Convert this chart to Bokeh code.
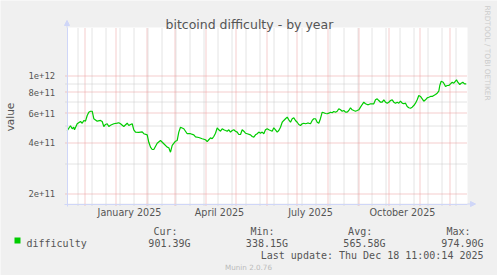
import math
from datetime import datetime, timedelta
from bokeh.plotting import figure
from bokeh.models import (ColumnDataSource, Range1d, FixedTicker, CustomJSTickFormatter,
                          Label, Arrow, NormalHead, BoxAnnotation)
from bokeh.embed import file_html
from bokeh.resources import INLINE

# ---------------- data ----------------
START = datetime(2024, 11, 14)
SPAN_DAYS = 400

DAYS = [
    -0.3, 3.0, 4.7, 6.3, 7.0, 9.7, 13.0, 14.7, 16.3, 18.0, 19.7, 21.3, 23.0, 24.7, 26.3,
    29.7, 33.0, 34.7, 36.3, 38.0, 39.7, 41.3, 43.0, 46.3, 49.7, 51.3, 53.0, 56.3, 59.7,
    61.3, 63.0, 64.7, 66.3, 68.0, 71.3, 74.7, 76.3, 79.7, 81.3, 83.0, 84.7, 86.3, 89.7,
    93.0, 96.3, 99.7, 101.3, 103.0, 104.7, 108.0, 109.7, 111.3, 113.0, 116.3, 119.7,
    123.0, 126.3, 128.0, 131.3, 134.7, 138.0, 139.7, 141.3, 143.0, 144.7, 146.3, 148.0,
    149.7, 151.3, 153.0, 154.7, 156.3, 158.0, 159.7, 161.3, 163.0, 164.7, 166.3, 168.0,
    169.7, 171.3, 173.0, 174.7, 176.3, 178.0, 179.7, 183.0, 184.7, 186.3, 188.0, 189.7,
    191.3, 193.0, 194.7, 196.3, 198.0, 199.7, 201.3, 203.0, 204.7, 206.3, 208.0, 209.7,
    211.3, 213.0, 214.7, 216.3, 218.0, 219.7, 221.3, 223.0, 224.7, 226.3, 228.0, 229.7,
    231.3, 233.0, 234.7, 236.3, 238.0, 239.7, 241.3, 243.0, 244.7, 246.3, 248.0, 249.7,
    251.3, 253.0, 254.7, 256.3, 258.0, 259.7, 261.3, 263.0, 264.7, 266.3, 268.0, 269.7,
    271.3, 273.0, 274.7, 276.3, 278.0, 279.7, 281.3, 283.0, 284.7, 286.3, 288.0, 289.7,
    291.3, 293.0, 294.7, 296.3, 298.0, 299.7, 301.3, 303.0, 304.7, 306.3, 308.0, 309.7,
    311.3, 313.0, 314.7, 316.3, 318.0, 319.7, 321.3, 323.0, 324.7, 326.3, 328.0, 329.7,
    331.3, 333.0, 334.7, 336.3, 338.0, 339.7, 341.3, 343.0, 344.7, 346.3, 348.0, 349.7,
    351.3, 353.0, 354.7, 356.3, 358.0, 359.7, 361.3, 363.0, 364.7, 366.3, 368.0, 369.7,
    371.3, 372.3, 373.7, 375.7, 377.0, 378.0, 379.7, 381.3, 383.0, 384.7, 386.3, 388.0,
    389.0, 390.3, 392.3, 393.7, 395.3, 397.0, 398.7,
]

DIFFICULTY_G = [
    473, 505, 485, 495, 478, 519, 535, 523, 543, 538, 581, 608, 616, 616, 556,
    538, 543, 535, 500, 514, 519, 500, 509, 519, 523, 526, 519, 500, 523,
    507, 514, 519, 478, 463, 461, 465, 453, 446, 403, 377, 365, 365, 398,
    413, 395, 377, 374, 352, 386, 409, 413, 463, 495, 485, 453,
    453, 446, 434, 430, 423, 417, 407, 417, 428, 423, 436, 456,
    491, 478, 469, 485, 478, 473, 469, 478, 463, 473, 478, 469,
    463, 448, 448, 478, 469, 456, 453, 446, 436, 432, 446, 453,
    463, 456, 463, 453, 478, 485, 478, 473, 469, 491, 478, 463,
    473, 495, 530, 543, 556, 568, 548, 530, 556, 563, 543, 530,
    514, 507, 519, 523, 519, 523, 523, 519, 543, 556, 556, 530,
    523, 558, 608, 603, 597, 595, 600, 608, 603, 614, 608, 616,
    637, 628, 616, 622, 608, 608, 622, 646, 628, 622, 616, 622,
    628, 651, 675, 697, 682, 675, 675, 682, 682, 682, 720, 730,
    713, 697, 697, 720, 697, 688, 697, 713, 720, 697, 688, 697,
    688, 707, 688, 682, 688, 657, 646, 642, 651, 666, 688, 720,
    764, 754, 730, 707, 720, 740, 746, 754, 754, 764, 774, 788,
    810, 876, 929, 916, 888, 864, 876, 876, 896, 916, 904, 929,
    947, 916, 888, 904, 916, 896, 896,
]

Y_MAJOR = [2e11, 4e11, 6e11, 8e11, 1e12]
Y_MINOR = [3e11, 5e11, 7e11, 9e11]
LABEL_MONTHS = [(2025, 1), (2025, 4), (2025, 7), (2025, 10)]
GRID_MONTHS = [(2024, 12)] + [(2025, m) for m in range(1, 13)]
FIRST_MINOR_GRID = datetime(2024, 11, 24)

TITLE = "bitcoind difficulty - by year"
Y_LABEL = "value"
SERIES = "difficulty"
STAT_NAMES = ["Cur:", "Min:", "Avg:", "Max:"]
STAT_VALUES = ["901.39G", "338.15G", "565.58G", "974.90G"]
LAST_UPDATE = "Last update: Thu Dec 18 11:00:14 2025"
WATERMARK = "Munin 2.0.76"
SIDE_TEXT = "RRDTOOL / TOBI OETIKER"

# ---------------- layout (pixels of the 497x275 canvas) ----------------
W, H = 497, 275
FL, FR, FT, FB = 67, 467, 27, 203          # plot area
PX_PER_DECADE = 168.4
PX_OF_1E12 = 75.3
GREEN = "#00CC00"
AXIS = "#CFD6F8"
TXT = "#555555"
EPOCH = datetime(1970, 1, 1)
DAY_MS = 86400000.0


def ms(dt):
    return (dt - EPOCH).total_seconds() * 1000.0


START_MS = ms(START)


def xd(px):          # canvas x pixel -> data x (ms)
    return START_MS + (px - FL) * DAY_MS


def xp(v):           # data x (ms) -> canvas x pixel
    return FL + (v - START_MS) / DAY_MS


def yd(py):          # canvas y pixel -> data y (log scale)
    return 10 ** (12 - (py - PX_OF_1E12) / PX_PER_DECADE)


def yp(v):           # data y -> canvas y pixel
    return PX_OF_1E12 - (math.log10(v) - 12) * PX_PER_DECADE


def snap_x(v):       # put a grid line on a pixel centre, like rrdtool
    return xd(math.floor(xp(v)) + 0.5)


def snap_y(v):
    return yd(math.floor(yp(v)) + 0.5)


dates = [START + timedelta(days=d) for d in DAYS]
vals = [v * 1e9 for v in DIFFICULTY_G]
src = ColumnDataSource(dict(date=dates, val=vals))

p = figure(width=W, height=H, x_axis_type="datetime", y_axis_type="log",
           x_range=Range1d(xd(0), xd(W)), y_range=Range1d(yd(H), yd(0)),
           output_backend="svg", toolbar_location=None,
           min_border=0, min_border_left=0, min_border_right=0,
           min_border_top=0, min_border_bottom=0,
           background_fill_color="#F0F0F0", border_fill_color="#F0F0F0",
           outline_line_color=None)
p.grid.visible = False

# white canvas of the plot area
p.quad(left=[xd(FL)], right=[xd(FR)], bottom=[yd(FB)], top=[yd(FT)],
       fill_color="white", line_color=None, level="image")

# grid lines (minor grey, major red), extended 2px past the axes like rrdtool
month_ticks = [snap_x(ms(datetime(y, m, 1))) for (y, m) in GRID_MONTHS]
minor_ticks = []
t = FIRST_MINOR_GRID
while ms(t) < xd(FR):
    minor_ticks.append(snap_x(ms(t)))
    t += timedelta(days=14)

MINOR_COL, MAJOR_COL = "#c8c8c8", "#eb9a9a"
for xs, col in ((minor_ticks, MINOR_COL), (month_ticks, MAJOR_COL)):
    p.segment(x0=xs, x1=xs, y0=[yd(FB + 2)] * len(xs), y1=[yd(FT)] * len(xs),
              line_color=col, line_width=1, line_dash="1 1", level="underlay")
for ys, col in ((Y_MINOR, MINOR_COL), (Y_MAJOR, MAJOR_COL)):
    ys_s = [snap_y(v) for v in ys]
    p.segment(x0=[xd(FL - 2)] * len(ys), x1=[xd(FR)] * len(ys), y0=ys_s, y1=ys_s,
              line_color=col, line_width=1, line_dash="1 1", level="underlay")

# the series
p.line(x="date", y="val", source=src, line_color=GREEN, line_width=1.2)

# y axis (drawn at the plot-area edge)
ya = p.yaxis[0]
ya.fixed_location = xd(FL - 0.5)
ya.bounds = (yd(FB + 3), yd(FT))
ya.ticker = FixedTicker(ticks=Y_MAJOR, minor_ticks=[])
ya.formatter = CustomJSTickFormatter(code="return tick.toExponential();")
ya.axis_line_color = AXIS
ya.major_tick_line_color = None
ya.minor_tick_line_color = None
ya.major_tick_out = 0
ya.major_tick_in = 0
ya.major_label_standoff = 12
ya.major_label_text_font = "DejaVu Sans Mono"
ya.major_label_text_font_size = "8.8px"
ya.major_label_text_color = TXT
ya.axis_label = Y_LABEL
ya.axis_label_text_font = "DejaVu Sans"
ya.axis_label_text_font_size = "10.5px"
ya.axis_label_text_font_style = "normal"
ya.axis_label_text_color = TXT
ya.axis_label_standoff = 10

# x axis
label_ticks = [ms(datetime(y, m, 15)) for (y, m) in LABEL_MONTHS]
xa = p.xaxis[0]
xa.fixed_location = yd(FB + 0.5)
xa.bounds = (xd(FL - 3), xd(FR))
xa.ticker = FixedTicker(ticks=label_ticks, minor_ticks=[])
xa.formatter = CustomJSTickFormatter(code="""
const n = ["January","February","March","April","May","June","July",
           "August","September","October","November","December"];
const d = new Date(tick);
return n[d.getUTCMonth()] + " " + d.getUTCFullYear();
""")
xa.axis_line_color = AXIS
xa.major_tick_line_color = None
xa.minor_tick_line_color = None
xa.major_tick_out = 0
xa.major_tick_in = 0
xa.major_label_standoff = 3
xa.major_label_text_font = "DejaVu Sans"
xa.major_label_text_font_size = "9.6px"
xa.major_label_text_color = TXT

# axis arrows
p.add_layout(Arrow(x_start=xd(FL - 0.5), y_start=yd(FT), x_end=xd(FL - 0.5), y_end=yd(FT - 7),
                   line_color=AXIS, line_width=1,
                   end=NormalHead(size=5, fill_color=AXIS, line_color=AXIS)))
p.add_layout(Arrow(x_start=xd(FR), y_start=yd(FB + 0.5), x_end=xd(FR + 8), y_end=yd(FB + 0.5),
                   line_color=AXIS, line_width=1,
                   end=NormalHead(size=5, fill_color=AXIS, line_color=AXIS)))


def put(text, cx, cy, size, font="DejaVu Sans Mono", color=TXT, align="left",
        baseline="alphabetic", angle=0.0):
    p.add_layout(Label(x=cx, y=H - cy, x_units="screen", y_units="screen",
                       text=text, text_font=font, text_font_size=f"{size}px",
                       text_color=color, text_align=align, text_baseline=baseline,
                       angle=angle))


put(TITLE, 248.9, 24, 12.5, font="DejaVu Sans", align="center")
put(SIDE_TEXT, 487, 52.5, 7.4, font="DejaVu Sans", color="#cccccc", align="center",
    baseline="middle", angle=-math.pi / 2)

# legend swatch
p.add_layout(BoxAnnotation(left=14, right=20, top=H - 237, bottom=H - 243,
                           left_units="screen", right_units="screen",
                           top_units="screen", bottom_units="screen",
                           fill_color=GREEN, fill_alpha=1.0, line_color=None))
put(SERIES, 26, 243, 10)
head_right = [177, 274, 371.7, 470]
val_right = [190, 287.5, 385, 483]
for name, hr in zip(STAT_NAMES, head_right):
    put(name, hr, 230.7, 10, align="right")
for v, vr in zip(STAT_VALUES, val_right):
    put(v, vr, 243, 10, align="right")
put(LAST_UPDATE, 483, 255, 10, align="right")
put(WATERMARK, 248, 267.3, 7.2, font="DejaVu Sans", color="#bbbbbb", align="center")

open("out.html", "w").write(file_html(p, INLINE))
